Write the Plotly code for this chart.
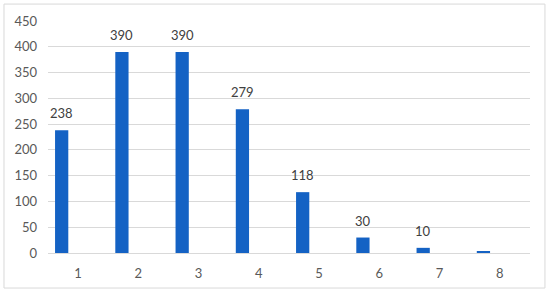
import plotly.graph_objects as go

# data
categories = ['1', '2', '3', '4', '5', '6', '7', '8']
values = [238, 390, 390, 279, 118, 30, 10, 2]
labels = ['238', '390', '390', '279', '118', '30', '10', '']
y_ticks = [0, 50, 100, 150, 200, 250, 300, 350, 400, 450]

BAR_WIDTH = 0.22
BAR_OFFSET = -0.383
FONT = 'Lato, Open Sans, sans-serif'

fig = go.Figure()

fig.add_trace(go.Bar(
    x=categories,
    y=values,
    width=BAR_WIDTH,
    offset=BAR_OFFSET,
    marker=dict(color='#1462c4', line=dict(width=0)),
    hoverinfo='x+y'
))

# value labels above the bars (category index + offset to the bar centre)
for i, (val, lab) in enumerate(zip(values, labels)):
    if not lab:
        continue
    fig.add_annotation(
        x=i + BAR_OFFSET + BAR_WIDTH / 2, y=val, text=lab, showarrow=False,
        xanchor='center', yanchor='bottom', yshift=7,
        font=dict(family=FONT, size=13, color='#404040')
    )

fig.update_layout(
    width=550,
    height=295,
    margin=dict(l=48, r=20, t=21, b=42),
    paper_bgcolor='white',
    plot_bgcolor='white',
    showlegend=False,
    font=dict(family=FONT, size=13, color='#595959'),
    xaxis=dict(
        type='category',
        showgrid=False,
        showline=True,
        linecolor='#d9d9d9',
        linewidth=1,
        ticks='',
        ticklabelstandoff=8,
    ),
    yaxis=dict(
        range=[0, 450],
        tickvals=y_ticks,
        showgrid=True,
        gridcolor='#d9d9d9',
        gridwidth=1,
        zeroline=False,
        showline=False,
        ticks='',
        ticklabelstandoff=10,
    ),
    # thin frame around the whole chart
    shapes=[dict(
        type='rect', xref='paper', yref='paper',
        x0=-0.0913, x1=1.031, y0=-0.151, y1=1.073,
        line=dict(color='#d9d9d9', width=1),
        fillcolor='rgba(0,0,0,0)', layer='below'
    )]
)

# drop the default body margin so the figure sits at the page origin
fig.write_html("out.html", config=dict(displayModeBar=False),
               post_script="document.body.style.margin='0';")
